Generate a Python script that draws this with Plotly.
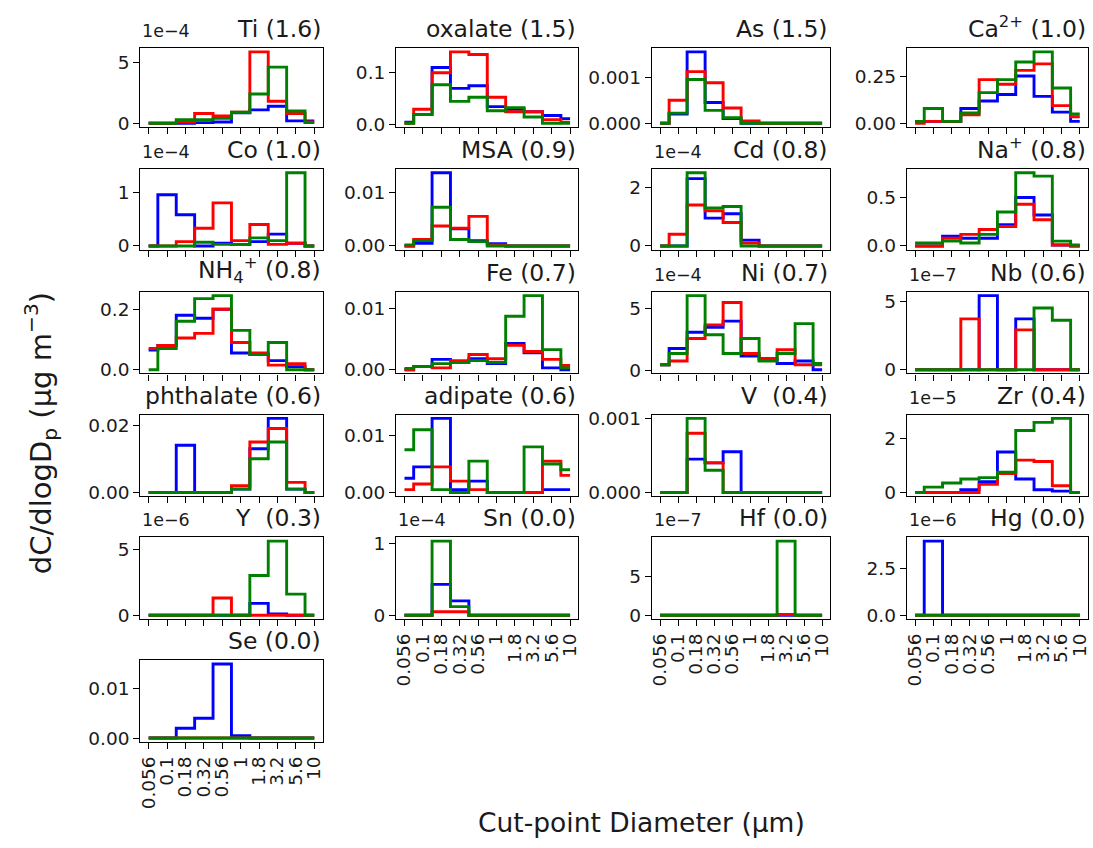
import plotly.graph_objects as go

W, H = 1093, 848

# Cut-point diameters (µm), tick labels
size_labels = ["0.056", "0.1", "0.18", "0.32", "0.56", "1", "1.8", "3.2", "5.6", "10"]
x_idx = list(range(len(size_labels)))

# Values in displayed units (multiplied by the panel's exponent label)
ti_blue = [0, 0, 0, 0.05, 0.1, 0.85, 1.1, 1.4, 0.2, 0.2]
ti_red = [0, 0, 0.1, 0.8, 0.6, 0.9, 5.85, 1.8, 0.8, 0.1]
ti_green = [0, 0, 0.3, 0.3, 0.4, 0.9, 2.4, 4.6, 1.0, 0.05]

oxalate_blue = [0.005, 0.02, 0.11, 0.07, 0.075, 0.035, 0.03, 0.025, 0.018, 0.012]
oxalate_red = [0.003, 0.03, 0.1, 0.14, 0.135, 0.053, 0.025, 0.025, 0.01, 0.005]
oxalate_green = [0.003, 0.02, 0.077, 0.045, 0.053, 0.027, 0.033, 0.015, 0.003, 0.003]

as_blue = [0, 0.0002, 0.00155, 0.00045, 0.0001, 0, 0, 0, 0, 0]
as_red = [0, 0.0005, 0.00112, 0.00088, 0.00033, 0.00005, 0, 0, 0, 0]
as_green = [0, 0.00022, 0.00095, 0.00028, 0.00012, 0, 0, 0, 0, 0]

ca_blue = [0.01, 0.01, 0.01, 0.08, 0.12, 0.155, 0.255, 0.145, 0.06, 0.01]
ca_red = [0.0, 0.01, 0.01, 0.045, 0.235, 0.21, 0.285, 0.32, 0.095, 0.035]
ca_green = [0.01, 0.08, 0.01, 0.055, 0.165, 0.235, 0.33, 0.385, 0.19, 0.05]

co_blue = [0, 0.95, 0.58, 0.0, 0.05, 0.03, 0.08, 0.22, 0.05, 0.0]
co_red = [0, 0.0, 0.08, 0.33, 0.8, 0.1, 0.4, 0.03, 0.05, 0.0]
co_green = [0, 0, 0, 0.07, 0.03, 0.03, 0.15, 0.1, 1.36, 0.0]

msa_blue = [0, 0.0005, 0.0136, 0.0032, 0.001, 0.0004, 0, 0, 0, 0]
msa_red = [0, 0.0012, 0.0037, 0.0033, 0.0055, 0.0002, 0, 0, 0, 0]
msa_green = [0.0002, 0.001, 0.0072, 0.0012, 0.0008, 0.0, 0, 0, 0, 0]

cd_blue = [0, 0, 2.3, 0.95, 1.1, 0.2, 0, 0, 0, 0]
cd_red = [0, 0.4, 1.4, 1.2, 0.8, 0.1, 0, 0, 0, 0]
cd_green = [0, 0, 2.5, 1.3, 1.35, 0, 0, 0, 0, 0]

na_blue = [0, 0, 0.1, 0.08, 0.08, 0.22, 0.5, 0.32, 0.01, 0.0]
na_red = [0, 0, 0.08, 0.12, 0.17, 0.2, 0.43, 0.27, 0.01, 0]
na_green = [0.03, 0.03, 0.05, 0.03, 0.12, 0.35, 0.755, 0.72, 0.05, 0.01]

nh4_blue = [0.065, 0.08, 0.18, 0.17, 0.2, 0.055, 0.05, 0.03, 0.01, 0]
nh4_red = [0.07, 0.08, 0.105, 0.12, 0.2, 0.09, 0.055, 0.015, 0.02, 0]
nh4_green = [0, 0.07, 0.16, 0.235, 0.245, 0.13, 0.05, 0.09, 0, 0]

fe_blue = [0, 0.0005, 0.0017, 0.0012, 0.0018, 0.001, 0.0043, 0.0028, 0.0003, 0]
fe_red = [0, 0.0005, 0.0003, 0.0015, 0.0025, 0.0018, 0.004, 0.003, 0.0017, 0.0007]
fe_green = [0.0002, 0.0005, 0.001, 0.0012, 0.0015, 0.0012, 0.0088, 0.0122, 0.0033, 0.0003]

ni_blue = [0.5, 1.8, 3.1, 3.5, 4.0, 1.2, 0.9, 0.6, 0.8, 0.1]
ni_red = [0.5, 0.8, 2.6, 3.7, 5.5, 1.4, 1.0, 1.7, 0.5, 0.5]
ni_green = [0.5, 1.4, 6.05, 2.9, 1.4, 2.6, 0.8, 1.4, 3.8, 0.6]

nb_blue = [0, 0, 0, 0, 5.4, 0, 3.7, 0, 0, 0]
nb_red = [0, 0, 0, 3.7, 0, 0, 2.9, 0, 0, 0]
nb_green = [0, 0, 0, 0, 0, 0, 0, 4.5, 3.6, 0]

phthalate_blue = [0, 0, 0.014, 0, 0, 0.001, 0.013, 0.022, 0.001, 0]
phthalate_red = [0, 0, 0, 0, 0, 0.002, 0.015, 0.019, 0.003, 0]
phthalate_green = [0, 0, 0, 0, 0, 0.001, 0.01, 0.015, 0.001, 0]

adipate_blue = [0.0025, 0.0045, 0.013, 0.0005, 0.002, 0.0, 0.0, 0.0, 0.0005, 0.0005]
adipate_red = [0.0005, 0.0015, 0.0045, 0.002, 0.0005, 0.0, 0.0, 0.0, 0.0055, 0.003]
adipate_green = [0.0075, 0.011, 0.0005, 0.0, 0.0055, 0.0, 0.0, 0.008, 0.005, 0.004]

v_blue = [0, 0, 0.00045, 0.0004, 0.00055, 0, 0, 0, 0, 0]
v_red = [0, 0, 0.0008, 0.0004, 0.0, 0, 0, 0, 0, 0]
v_green = [0, 0, 0.001, 0.0003, 0.0, 0, 0, 0, 0, 0]

zr_blue = [0, 0, 0, 0.1, 0.4, 1.5, 0.5, 0.1, 0.05, 0]
zr_red = [0, 0, 0, 0, 0.3, 0.7, 1.2, 1.15, 0.25, 0]
zr_green = [0, 0.2, 0.35, 0.5, 0.55, 0.75, 2.3, 2.6, 2.75, 0]

y_blue = [0, 0, 0, 0, 0, 0, 0.9, 0.1, 0, 0]
y_red = [0, 0, 0, 0, 1.3, 0, 0, 0, 0, 0]
y_green = [0, 0, 0, 0, 0, 0, 3.0, 5.6, 1.6, 0]

sn_blue = [0, 0, 0.43, 0.2, 0, 0, 0, 0, 0, 0]
sn_red = [0, 0, 0.05, 0.05, 0, 0, 0, 0, 0, 0]
sn_green = [0, 0, 1.03, 0.12, 0, 0, 0, 0, 0, 0]

hf_blue = [0, 0, 0, 0, 0, 0, 0, 0, 0, 0]
hf_red = [0, 0, 0, 0, 0, 0, 0, 0.1, 0, 0]
hf_green = [0, 0, 0, 0, 0, 0, 0, 9.5, 0, 0]

hg_blue = [0, 4.0, 0, 0, 0, 0, 0, 0, 0, 0]
hg_red = [0, 0, 0, 0, 0, 0, 0, 0, 0, 0]
hg_green = [0, 0, 0, 0, 0, 0, 0, 0, 0, 0]

se_blue = [0, 0, 0.002, 0.004, 0.015, 0.0005, 0, 0, 0, 0]
se_red = [0, 0, 0, 0, 0, 0, 0, 0, 0, 0]
se_green = [0, 0, 0, 0, 0, 0, 0, 0, 0, 0]

titles = ["Ti (1.6)", "oxalate (1.5)", "As (1.5)", "Ca<sup>2+</sup> (1.0)",
          "Co (1.0)", "MSA (0.9)", "Cd (0.8)", "Na<sup>+</sup> (0.8)",
          "NH<sub>4</sub><sup>+</sup> (0.8)", "Fe (0.7)", "Ni (0.7)", "Nb (0.6)",
          "phthalate (0.6)", "adipate (0.6)", "V  (0.4)", "Zr (0.4)",
          "Y  (0.3)", "Sn (0.0)", "Hf (0.0)", "Hg (0.0)",
          "Se (0.0)"]
exponents = ["1e−4", "", "", "",
             "1e−4", "", "1e−4", "",
             "", "", "1e−4", "1e−7",
             "", "", "", "1e−5",
             "1e−6", "1e−4", "1e−7", "1e−6",
             ""]
blues = [ti_blue, oxalate_blue, as_blue, ca_blue, co_blue, msa_blue, cd_blue, na_blue,
         nh4_blue, fe_blue, ni_blue, nb_blue, phthalate_blue, adipate_blue, v_blue, zr_blue,
         y_blue, sn_blue, hf_blue, hg_blue, se_blue]
reds = [ti_red, oxalate_red, as_red, ca_red, co_red, msa_red, cd_red, na_red,
        nh4_red, fe_red, ni_red, nb_red, phthalate_red, adipate_red, v_red, zr_red,
        y_red, sn_red, hf_red, hg_red, se_red]
greens = [ti_green, oxalate_green, as_green, ca_green, co_green, msa_green, cd_green, na_green,
          nh4_green, fe_green, ni_green, nb_green, phthalate_green, adipate_green, v_green, zr_green,
          y_green, sn_green, hf_green, hg_green, se_green]
ytick_vals = [[0, 5], [0, 0.1], [0, 0.001], [0, 0.25],
              [0, 1], [0, 0.01], [0, 2], [0, 0.5],
              [0, 0.2], [0, 0.01], [0, 5], [0, 5],
              [0, 0.02], [0, 0.01], [0, 0.001], [0, 2],
              [0, 5], [0, 1], [0, 5], [0, 2.5],
              [0, 0.01]]
ytick_text = [["0", "5"], ["0.0", "0.1"], ["0.000", "0.001"], ["0.00", "0.25"],
              ["0", "1"], ["0.00", "0.01"], ["0", "2"], ["0.0", "0.5"],
              ["0.0", "0.2"], ["0.00", "0.01"], ["0", "5"], ["0", "5"],
              ["0.00", "0.02"], ["0.00", "0.01"], ["0.000", "0.001"], ["0", "2"],
              ["0", "5"], ["0", "1"], ["0", "5"], ["0.0", "2.5"],
              ["0.00", "0.01"]]

# ---- layout geometry (pixels) ----
cols_px = [(138, 321), (395, 578), (652, 831), (908, 1090)]
rows_px = [(42, 122), (165, 247), (290, 373), (415, 498), (540, 623), (665, 748)]
bottom_panels = {17, 18, 19, 20}
FONT = "DejaVu Sans"
TXT = "#1a1a1a"
colors = ["#0000ff", "#ff0000", "#008000"]

fig = go.Figure()
layout_axes = {}
annotations = []

for i in range(len(titles)):
    row, col = divmod(i, 4)
    n = i + 1
    xa = "x" if n == 1 else f"x{n}"
    ya = "y" if n == 1 else f"y{n}"
    for vals, c in zip([blues[i], reds[i], greens[i]], colors):
        fig.add_trace(go.Scatter(x=x_idx, y=vals, mode="lines",
                                 line=dict(color=c, width=2.9, shape="hvh"),
                                 xaxis=xa, yaxis=ya, showlegend=False, hoverinfo="skip"))
    allv = blues[i] + reds[i] + greens[i]
    lo, hi = min(allv), max(allv)
    span = hi - lo
    x0, x1 = cols_px[col]
    t0, t1 = rows_px[row]
    xdom = [x0 / W, x1 / W]
    ydom = [1 - t1 / H, 1 - t0 / H]
    common = dict(showline=True, mirror=True, linecolor="black", linewidth=1.4,
                  ticks="outside", ticklen=6, tickwidth=1.4, tickcolor="black",
                  showgrid=False, zeroline=False,
                  tickfont=dict(family=FONT, size=18.5, color=TXT))
    layout_axes["xaxis" if n == 1 else f"xaxis{n}"] = dict(
        domain=xdom, anchor=ya, range=[-0.45, 9.45], tickmode="array",
        tickvals=x_idx, ticktext=size_labels, tickangle=-90,
        showticklabels=(i in bottom_panels), **common)
    layout_axes["yaxis" if n == 1 else f"yaxis{n}"] = dict(
        domain=ydom, anchor=xa, range=[lo - 0.05 * span, hi + 0.05 * span],
        tickmode="array", tickvals=ytick_vals[i], ticktext=ytick_text[i], **common)
    annotations.append(dict(text=titles[i], x=x1 / W, y=ydom[1], xref="paper", yref="paper",
                            xanchor="right", yanchor="bottom", showarrow=False, yshift=3,
                            font=dict(family=FONT, size=23.5, color=TXT)))
    if exponents[i]:
        annotations.append(dict(text=exponents[i], x=x0 / W, y=ydom[1], xref="paper", yref="paper",
                                xanchor="left", yanchor="bottom", showarrow=False, yshift=5,
                                font=dict(family=FONT, size=17.5, color=TXT)))

annotations.append(dict(text="Cut-point Diameter (µm)", x=641 / W, y=1 - 830 / H,
                        xref="paper", yref="paper", xanchor="center", yanchor="middle",
                        showarrow=False, font=dict(family=FONT, size=26.5, color=TXT)))
annotations.append(dict(text="dC/dlogD<sub>p</sub> (µg m<sup>−3</sup>)", x=38 / W, y=1 - 434 / H,
                        xref="paper", yref="paper", xanchor="center", yanchor="middle",
                        textangle=-90, showarrow=False,
                        font=dict(family=FONT, size=29, color=TXT)))

fig.update_layout(width=W, height=H, margin=dict(l=0, r=0, t=0, b=0),
                  paper_bgcolor="white", plot_bgcolor="white",
                  annotations=annotations, **layout_axes)
fig.write_html("out.html")
